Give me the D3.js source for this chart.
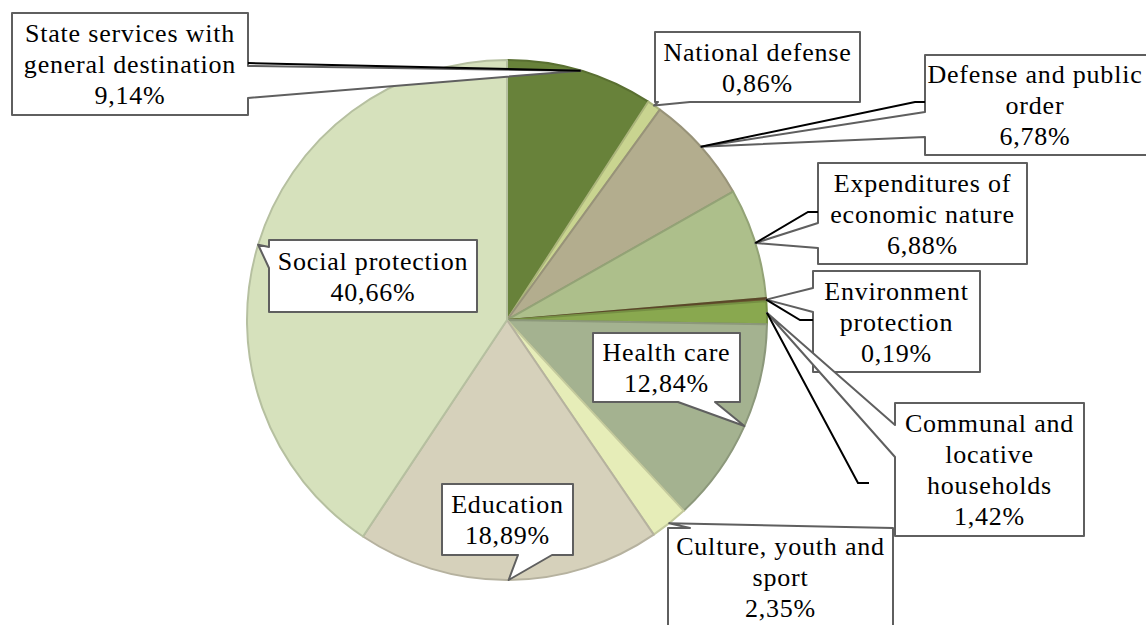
<!DOCTYPE html>
<html>
<head>
<meta charset="utf-8">
<script src="https://cdn.jsdelivr.net/npm/d3@7"></script>
<style>
  html, body { margin: 0; padding: 0; background: #ffffff; }
  svg { display: block; }
  text { font-family: "Liberation Serif", "DejaVu Serif", serif; }
</style>
</head>
<body>
<svg id="chart" width="1146" height="625"></svg>
<script>
// ---- data ----
const categories = [
  "State services with general destination",
  "National defense",
  "Defense and public order",
  "Expenditures of economic nature",
  "Environment protection",
  "Communal and locative households",
  "Health care",
  "Culture, youth and sport",
  "Education",
  "Social protection"
];
const values = [9.14, 0.86, 6.78, 6.88, 0.19, 1.42, 12.84, 2.35, 18.89, 40.66];
const labelLines = [
  ["State services with", "general destination"],
  ["National defense"],
  ["Defense and public", "order"],
  ["Expenditures of", "economic nature"],
  ["Environment", "protection"],
  ["Communal and", "locative", "households"],
  ["Health care"],
  ["Culture, youth and", "sport"],
  ["Education"],
  ["Social protection"]
];
const colors = ["#68823a", "#c9d490", "#b3ad8e", "#adbf8b", "#6b5530",
                "#89a84f", "#a4b290", "#e6edb8", "#d6d1bb", "#d6e1bc"];

// ---- callout layout (box, wedge side, wedge base, optional black leader) ----
const callouts = [
  {box: [12, 13, 248, 115],   side: "right",  base: [66, 98],   leader: [[248, 63]]},
  {box: [655, 32, 860, 102],  side: "bottom", base: [658, 690], leader: null},
  {box: [925, 55, 1160, 155], side: "left",   base: [112, 137], leader: [[915, 102], [925, 102]], tx: 1035},
  {box: [818, 163, 1027, 264],side: "left",   base: [223, 248], leader: [[808, 212], [818, 212]]},
  {box: [813, 271, 980, 372], side: "left",   base: [288, 312], leader: [[800, 320], [813, 320]]},
  {box: [895, 403, 1084, 536],side: "left",   base: [425, 457], leader: [[858, 483], [869, 483]]},
  {box: [593, 333, 740, 402], side: "bottom", base: [678, 715], leader: null},
  {box: [668, 528, 893, 626], side: "top",    base: [690, 893], leader: null},
  {box: [442, 484, 573, 555], side: "bottom", base: [518, 552], leader: null},
  {box: [269, 240, 477, 312], side: "left",   base: [247, 268], leader: null}
];

const cx = 507, cy = 320, R = 260;
const lineH = 31;
const fmt = v => d3.format(".2f")(v).replace(".", ",") + "%";

const svg = d3.select("#chart");

const pie = d3.pie().sort(null).value(d => d.value);
const arcs = pie(values.map((v, i) => ({value: v, i})));
const arcGen = d3.arc().innerRadius(0).outerRadius(R);

const gPie = svg.append("g").attr("transform", `translate(${cx},${cy})`);
gPie.selectAll("path")
  .data(arcs)
  .join("path")
  .attr("d", arcGen)
  .attr("fill", d => colors[d.data.i])
  .attr("stroke", d => d3.color(colors[d.data.i]).darker(0.45))
  .attr("stroke-width", 2)
  .attr("stroke-linejoin", "round");

function tipOf(a) {
  const m = (a.startAngle + a.endAngle) / 2;
  return [cx + R * Math.sin(m), cy - R * Math.cos(m)];
}

function calloutPath(c, tip) {
  const [x0, y0, x1, y1] = c.box;
  const [a, b] = c.base;
  const p = d3.path();
  const T = tip;
  if (c.side === "top") {
    p.moveTo(x0, y0); p.lineTo(a, y0); p.lineTo(T[0], T[1]); p.lineTo(b, y0);
    p.lineTo(x1, y0); p.lineTo(x1, y1); p.lineTo(x0, y1); p.closePath();
  } else if (c.side === "right") {
    p.moveTo(x0, y0); p.lineTo(x1, y0); p.lineTo(x1, a); p.lineTo(T[0], T[1]);
    p.lineTo(x1, b); p.lineTo(x1, y1); p.lineTo(x0, y1); p.closePath();
  } else if (c.side === "bottom") {
    p.moveTo(x0, y0); p.lineTo(x1, y0); p.lineTo(x1, y1); p.lineTo(b, y1);
    p.lineTo(T[0], T[1]); p.lineTo(a, y1); p.lineTo(x0, y1); p.closePath();
  } else {
    p.moveTo(x0, y0); p.lineTo(x1, y0); p.lineTo(x1, y1); p.lineTo(x0, y1);
    p.lineTo(x0, b); p.lineTo(T[0], T[1]); p.lineTo(x0, a); p.closePath();
  }
  return p.toString();
}

const gLab = svg.append("g");
arcs.forEach((a, i) => {
  const c = callouts[i];
  const tip = tipOf(a);
  gLab.append("path")
    .attr("d", calloutPath(c, tip))
    .attr("fill", "#ffffff")
    .attr("stroke", "#5f5f5f")
    .attr("stroke-width", 2)
    .attr("stroke-linejoin", "round");
  if (c.leader) {
    const pts = [tip].concat(c.leader);
    gLab.append("path")
      .attr("d", d3.line()(pts))
      .attr("fill", "none")
      .attr("stroke", "#000000")
      .attr("stroke-width", 2);
  }
  const lines = labelLines[i].concat([fmt(values[i])]);
  const [x0, y0, x1, y1] = c.box;
  const mx = c.tx !== undefined ? c.tx : (x0 + x1) / 2;
  const my = (y0 + y1) / 2;
  const n = lines.length;
  const t = gLab.append("text")
    .attr("text-anchor", "middle")
    .attr("font-size", 26)
    .attr("letter-spacing", 0.8)
    .attr("fill", "#000000");
  lines.forEach((ln, k) => {
    t.append("tspan")
      .attr("x", mx)
      .attr("y", my + (k - (n - 1) / 2) * lineH + 9)
      .text(ln);
  });
});
</script>
</body>
</html>
